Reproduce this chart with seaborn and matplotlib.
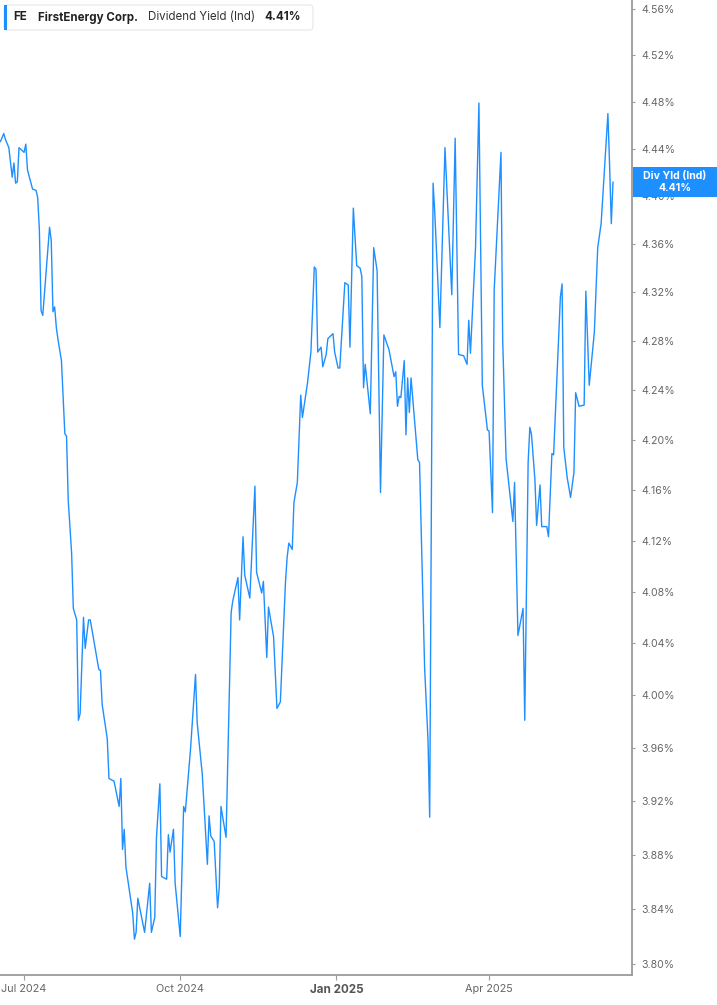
import matplotlib
matplotlib.use("Agg")
import numpy as np
import pandas as pd
import matplotlib.pyplot as plt
import seaborn as sns
from matplotlib.patches import FancyBboxPatch, Rectangle
from matplotlib.ticker import NullLocator, NullFormatter

# FirstEnergy dividend yield (indicated)
dates = [
    "2024-06-17", "2024-06-19", "2024-06-20", "2024-06-22", "2024-06-24", "2024-06-25",
    "2024-06-26", "2024-06-27", "2024-06-28", "2024-07-01", "2024-07-02", "2024-07-03",
    "2024-07-06", "2024-07-08", "2024-07-09", "2024-07-10", "2024-07-11", "2024-07-12",
    "2024-07-16", "2024-07-17", "2024-07-18", "2024-07-19", "2024-07-20", "2024-07-21",
    "2024-07-23", "2024-07-25", "2024-07-26", "2024-07-27", "2024-07-29", "2024-07-30",
    "2024-08-01", "2024-08-02", "2024-08-03", "2024-08-05", "2024-08-06", "2024-08-08",
    "2024-08-09", "2024-08-14", "2024-08-15", "2024-08-16", "2024-08-19", "2024-08-20",
    "2024-08-23", "2024-08-26", "2024-08-27", "2024-08-28", "2024-08-29", "2024-08-30",
    "2024-09-03", "2024-09-04", "2024-09-05", "2024-09-06", "2024-09-10", "2024-09-13",
    "2024-09-14", "2024-09-16", "2024-09-17", "2024-09-19", "2024-09-20", "2024-09-23",
    "2024-09-24", "2024-09-25", "2024-09-27", "2024-09-28", "2024-10-01", "2024-10-03",
    "2024-10-04", "2024-10-07", "2024-10-10", "2024-10-11", "2024-10-14", "2024-10-17",
    "2024-10-18", "2024-10-19", "2024-10-21", "2024-10-23", "2024-10-24", "2024-10-25",
    "2024-10-28", "2024-10-31", "2024-11-01", "2024-11-04", "2024-11-05", "2024-11-07",
    "2024-11-08", "2024-11-11", "2024-11-14", "2024-11-15", "2024-11-18", "2024-11-19",
    "2024-11-21", "2024-11-22", "2024-11-25", "2024-11-27", "2024-11-29", "2024-12-02",
    "2024-12-03", "2024-12-04", "2024-12-06", "2024-12-07", "2024-12-09", "2024-12-11",
    "2024-12-12", "2024-12-15", "2024-12-17", "2024-12-19", "2024-12-20", "2024-12-21",
    "2024-12-23", "2024-12-24", "2024-12-26", "2024-12-27", "2024-12-30", "2024-12-31",
    "2025-01-02", "2025-01-03", "2025-01-06", "2025-01-08", "2025-01-09", "2025-01-11",
    "2025-01-13", "2025-01-15", "2025-01-16", "2025-01-17", "2025-01-18", "2025-01-21",
    "2025-01-23", "2025-01-25", "2025-01-27", "2025-01-29", "2025-02-01", "2025-02-04",
    "2025-02-05", "2025-02-06", "2025-02-07", "2025-02-08", "2025-02-10", "2025-02-11",
    "2025-02-12", "2025-02-13", "2025-02-14", "2025-02-18", "2025-02-19", "2025-02-22",
    "2025-02-24", "2025-02-25", "2025-02-27", "2025-02-28", "2025-03-03", "2025-03-06",
    "2025-03-10", "2025-03-12", "2025-03-14", "2025-03-17", "2025-03-19", "2025-03-20",
    "2025-03-21", "2025-03-24", "2025-03-26", "2025-03-28", "2025-03-31", "2025-04-01",
    "2025-04-03", "2025-04-04", "2025-04-08", "2025-04-09", "2025-04-11", "2025-04-15",
    "2025-04-16", "2025-04-18", "2025-04-21", "2025-04-22", "2025-04-24", "2025-04-25",
    "2025-04-26", "2025-04-28", "2025-04-29", "2025-05-01", "2025-05-02", "2025-05-05",
    "2025-05-06", "2025-05-08", "2025-05-09", "2025-05-13", "2025-05-14", "2025-05-15",
    "2025-05-17", "2025-05-19", "2025-05-21", "2025-05-22", "2025-05-24", "2025-05-27",
    "2025-05-28", "2025-05-30", "2025-06-02", "2025-06-04", "2025-06-06", "2025-06-10",
    "2025-06-11", "2025-06-12", "2025-06-13",
]
yields = [
    4.446, 4.453, 4.448, 4.441, 4.416, 4.428,
    4.411, 4.412, 4.441, 4.437, 4.444, 4.422,
    4.406, 4.405, 4.399, 4.372, 4.305, 4.301,
    4.374, 4.363, 4.304, 4.308, 4.291, 4.281,
    4.264, 4.205, 4.203, 4.152, 4.110, 4.067,
    4.058, 3.981, 3.986, 4.060, 4.036, 4.058,
    4.058, 4.020, 4.019, 3.993, 3.967, 3.937,
    3.935, 3.916, 3.937, 3.884, 3.899, 3.871,
    3.837, 3.818, 3.823, 3.848, 3.823, 3.859,
    3.823, 3.834, 3.893, 3.933, 3.864, 3.862,
    3.895, 3.882, 3.899, 3.859, 3.820, 3.916,
    3.912, 3.958, 4.016, 3.979, 3.940, 3.873,
    3.909, 3.894, 3.890, 3.841, 3.856, 3.916,
    3.893, 4.064, 4.073, 4.091, 4.058, 4.123,
    4.093, 4.075, 4.163, 4.095, 4.079, 4.088,
    4.029, 4.068, 4.045, 3.990, 3.995, 4.087,
    4.107, 4.118, 4.113, 4.150, 4.166, 4.236,
    4.218, 4.246, 4.271, 4.341, 4.339, 4.271,
    4.275, 4.259, 4.269, 4.282, 4.286, 4.271,
    4.258, 4.258, 4.328, 4.326, 4.275, 4.390,
    4.342, 4.340, 4.333, 4.242, 4.261, 4.221,
    4.357, 4.338, 4.158, 4.285, 4.273, 4.251,
    4.255, 4.227, 4.235, 4.234, 4.264, 4.204,
    4.250, 4.222, 4.250, 4.184, 4.182, 4.021,
    3.966, 3.908, 4.411, 4.386, 4.291, 4.441,
    4.318, 4.449, 4.269, 4.268, 4.261, 4.297,
    4.270, 4.357, 4.479, 4.244, 4.208, 4.207,
    4.142, 4.322, 4.437, 4.281, 4.185, 4.135,
    4.166, 4.046, 4.067, 3.981, 4.182, 4.210,
    4.204, 4.168, 4.132, 4.164, 4.131, 4.131,
    4.123, 4.189, 4.188, 4.316, 4.327, 4.194,
    4.170, 4.154, 4.174, 4.238, 4.227, 4.228,
    4.321, 4.244, 4.287, 4.357, 4.377, 4.470,
    4.426, 4.377, 4.412,
]
y_ticks = [3.80, 3.84, 3.88, 3.92, 3.96, 4.00, 4.04, 4.08, 4.12, 4.16,
           4.20, 4.24, 4.28, 4.32, 4.36, 4.40, 4.44, 4.48, 4.52, 4.56]
x_ticks = ["2024-07-01", "2024-10-01", "2025-01-01", "2025-04-01"]
x_tick_labels = ["Jul 2024", "Oct 2024", "Jan 2025", "Apr 2025"]

ticker = "FE"
company = "FirstEnergy Corp."
metric = "Dividend Yield (Ind)"
last_value = "4.41%"

df = pd.DataFrame({"date": pd.to_datetime(dates), "yield": yields})

BLUE = "#1e8fff"
AXIS = "#9a9a9a"
LABEL = "#666666"

sns.set_theme(style="white")
plt.rcParams["font.family"] = ["Inter", "DejaVu Sans"]

W, H = 717, 1005
fig = plt.figure(figsize=(W / 100, H / 100), dpi=100)
ax = fig.add_axes([0, 1 - 975 / H, 632 / W, 975 / H])

sns.lineplot(data=df, x="date", y="yield", ax=ax, estimator=None, sort=False,
             color=BLUE, linewidth=1.0)

ax.set_yscale("log")
ax.set_ylim(3.792, 4.568)
base = pd.Timestamp("2024-07-01")
ax.set_xlim(base - pd.Timedelta(days=14.2), base + pd.Timedelta(days=358.2))

ax.set_yticks(y_ticks)
ax.set_yticklabels([f"{v:.2f}%" for v in y_ticks])
ax.yaxis.set_minor_locator(NullLocator())
ax.yaxis.set_minor_formatter(NullFormatter())
ax.yaxis.tick_right()

ax.set_xticks(pd.to_datetime(x_ticks))
ax.set_xticklabels(x_tick_labels)
ax.set_xlabel("")
ax.set_ylabel("")

ax.tick_params(axis="y", which="major", direction="out", length=2.5, width=0.8,
               color=AXIS, labelsize=7.6, labelcolor=LABEL, pad=4,
               right=True, left=False)
ax.tick_params(axis="x", which="major", direction="out", length=3.5, width=0.8,
               color=AXIS, labelsize=7.8, labelcolor=LABEL, pad=3, bottom=True)
for lab in ax.get_xticklabels():
    if lab.get_text().startswith("Jan"):
        lab.set_fontweight("bold")
        lab.set_color("#555555")
        lab.set_fontsize(8.4)

for side in ["top", "left"]:
    ax.spines[side].set_visible(False)
for side in ["right", "bottom"]:
    ax.spines[side].set_color(AXIS)
    ax.spines[side].set_linewidth(1.3)
ax.grid(False)


def fx(px):
    return px / W


def fy(py):
    return 1 - py / H


# legend box at top-left
box = FancyBboxPatch((fx(4), fy(30)), fx(313) - fx(4), fy(5) - fy(30),
                     boxstyle="round,pad=0,rounding_size=0.004",
                     transform=fig.transFigure, facecolor="white",
                     edgecolor="#e6e6e6", linewidth=0.8, zorder=5)
fig.patches.append(box)
fig.patches.append(Rectangle((fx(4), fy(30)), fx(3), fy(5) - fy(30),
                             transform=fig.transFigure, facecolor=BLUE,
                             edgecolor="none", zorder=6))
ty = fy(17.5)
fig.text(fx(13), ty, ticker, fontsize=8.3, fontweight="bold", color="#222222",
         va="center", zorder=7)
fig.text(fx(38), ty, company, fontsize=8.3, fontweight="bold", color="#222222",
         va="center", zorder=7)
fig.text(fx(148), ty, metric, fontsize=8.3, color="#333333", va="center", zorder=7)
fig.text(fx(264), ty, last_value, fontsize=8.3, fontweight="bold", color="#222222",
         va="center", zorder=7)

# last value tag on the right axis
fig.patches.append(Rectangle((fx(633), fy(197)), fx(717) - fx(633), fy(167) - fy(197),
                             transform=fig.transFigure, facecolor=BLUE,
                             edgecolor="none", zorder=6))
fig.text(fx(675), fy(176), "Div Yld (Ind)", fontsize=7.6, fontweight="bold",
         color="white", ha="center", va="center", zorder=7)
fig.text(fx(675), fy(188), last_value, fontsize=7.6, fontweight="bold",
         color="white", ha="center", va="center", zorder=7)

fig.savefig("out.png", dpi=100)
